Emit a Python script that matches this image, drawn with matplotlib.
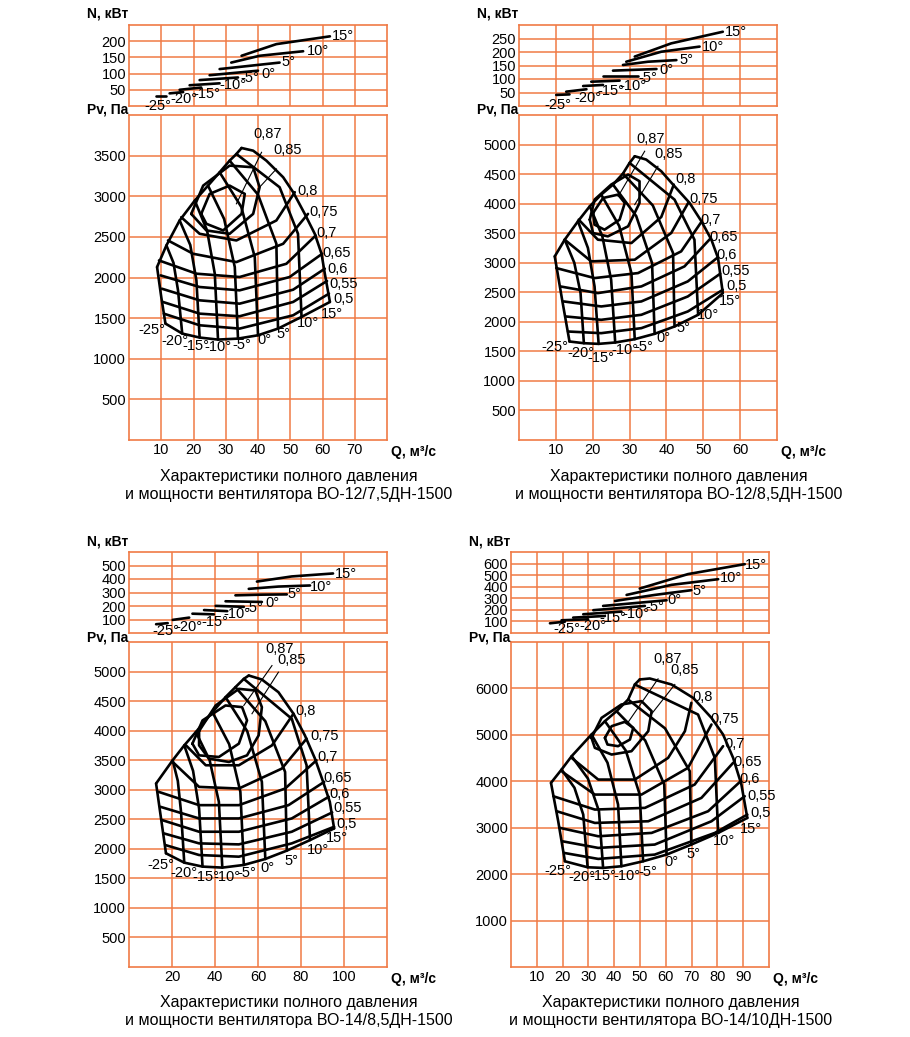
import matplotlib
matplotlib.use("Agg")
import matplotlib.pyplot as plt

plt.rcParams['font.family'] = ['Liberation Sans', 'DejaVu Sans']

GRID = "#F07A45"
ANGLES = ["-25°", "-20°", "-15°", "-10°", "-5°", "0°", "5°", "10°", "15°"]
EFFS = ["0,5", "0,55", "0,6", "0,65", "0,7", "0,75", "0,8"]

# ── panel 1: ВО-12/7,5ДН-1500 ─────────────────────────────────────────────────
P1_BLADE_Q = [[11.3, 10.0, 8.7], [16.5, 15.2, 13.8, 11.6], [21.9, 20.9, 19.0, 15.7],
              [27.6, 26.6, 24.2, 20.4], [33.8, 32.8, 29.5, 24.5], [40.0, 39.0, 34.8, 28.1],
              [46.2, 45.7, 40.0, 31.2], [53.5, 52.4, 46.7, 33.3],
              [62.3, 60.7, 59.7, 57.6, 54.5, 50.9, 47.8, 42.6, 38.5, 34.9]]
P1_BLADE_P = [[1433, 1760, 2129], [1310, 1842, 2180, 2395], [1261, 1965, 2400, 2702],
              [1236, 2047, 2580, 2947], [1248, 2129, 2720, 3131], [1289, 2251, 2870, 3295],
              [1371, 2415, 3020, 3438], [1515, 2538, 3111, 3520],
              [1699, 2051, 2292, 2538, 2783, 3050, 3234, 3438, 3561, 3594]]
P1_EFF_Q = [[10.8, 21.9, 34.3, 50.9, 62.0], [10.5, 21.9, 34.3, 50.9, 61.4],
            [10.2, 21.9, 34.3, 50.9, 60.7], [9.8, 21.9, 34.3, 49.8, 59.9],
            [9.3, 20.9, 34.3, 48.8, 57.9], [12.1, 19.9, 33.3, 47.8, 55.5],
            [16.2, 21.9, 33.3, 45.7, 51.4]]
P1_EFF_P = [[1555, 1412, 1371, 1535, 1801], [1699, 1555, 1523, 1699, 1957],
            [1862, 1719, 1678, 1850, 2108], [2026, 1883, 1842, 2006, 2292],
            [2210, 2047, 2006, 2169, 2517], [2456, 2292, 2190, 2415, 2783],
            [2742, 2538, 2456, 2702, 3050]]
P1_L87_Q = [22.4, 25.0, 31.2, 35.9, 34.9, 29.2, 24.0, 22.4]
P1_L87_P = [2783, 3029, 3131, 3029, 2783, 2579, 2661, 2783]
P1_L85_Q = [19.3, 23.0, 31.2, 38.5, 40.5, 38.5, 31.2, 24.0, 19.3]
P1_L85_P = [2783, 3131, 3377, 3357, 3111, 2783, 2538, 2579, 2783]
P1_LEAD_Q = [[33.3, 41.1], [40.0, 45.7]]
P1_LEAD_P = [[2907, 3541], [3090, 3336]]
P1_TOP_LBL = [(38.5, 3684), (44.7, 3479)]
P1_EFF_LBL = [(63.3, 1731), (62.0, 1924), (61.5, 2108), (60.0, 2305),
              (58.1, 2546), (55.8, 2804), (52.2, 3070)]
P1_ANG_LBL = [(7.2, 1351), (14.2, 1220), (20.7, 1154), (27.6, 1146), (34.9, 1167),
              (42.1, 1236), (47.8, 1310), (55.5, 1441), (62.8, 1555)]
P1_POW_Q = [[8.5, 11.6], [12.6, 16.8], [15.7, 22.4], [18.8, 28.1], [21.9, 33.8],
            [25.0, 40.0], [28.1, 46.7], [31.7, 40.5, 54.0], [34.9, 45.7, 62.3]]
P1_POW_N = [[31, 31], [39, 43], [50, 57], [64, 70], [80, 88], [95, 109],
            [114, 134], [134, 155, 169], [155, 191, 215]]
P1_POW_LBL = [(9.0, 0), (17.1, 21), (24.2, 38), (32.3, 64), (37.6, 85),
              (43.1, 98), (49.3, 137), (58.6, 171), (66.4, 217)]

# ── panel 2: ВО-12/8,5ДН-1500 ─────────────────────────────────────────────────
P2_BLADE_Q = [[13.7, 11.7, 9.7], [17.6, 16.7, 15.0, 12.4], [21.6, 20.5, 18.7, 16.0],
              [26.1, 25.0, 22.6, 19.2], [31.4, 30.5, 27.2, 22.3], [36.8, 36.1, 31.8, 25.5],
              [42.2, 41.8, 36.3, 28.2], [48.6, 47.6, 42.2, 30.0],
              [55.3, 54.0, 52.2, 49.5, 46.3, 42.2, 38.6, 34.5, 31.4]]
P2_BLADE_P = [[1667, 2373, 3107], [1638, 2486, 3000, 3390], [1627, 2599, 3250, 3701],
              [1650, 2712, 3450, 3955], [1706, 2825, 3620, 4153], [1797, 2994, 3790, 4322],
              [1921, 3164, 3970, 4508], [2119, 3390, 4068, 4689],
              [2486, 3079, 3390, 3701, 4011, 4294, 4548, 4746, 4802]]
P2_EFF_Q = [[13.3, 22.3, 33.2, 45.8, 55.3], [12.8, 22.3, 33.2, 45.8, 54.6],
            [12.1, 22.3, 33.2, 45.8, 53.7], [11.2, 21.4, 33.2, 44.9, 51.9],
            [10.1, 20.5, 32.3, 44.0, 49.6], [12.4, 19.6, 31.4, 41.3, 46.0],
            [16.2, 21.4, 30.5, 38.6, 42.0]]
P2_EFF_P = [[1836, 1808, 1893, 2175, 2542], [2090, 2034, 2119, 2429, 2814],
            [2345, 2260, 2345, 2684, 3079], [2599, 2486, 2599, 2938, 3407],
            [2910, 2740, 2825, 3192, 3701], [3390, 3023, 3051, 3503, 4023],
            [3729, 3390, 3333, 3774, 4322]]
P2_L87_Q = [20.1, 22.8, 26.9, 28.7, 27.3, 23.2, 20.5, 20.1]
P2_L87_P = [3842, 4096, 4153, 4011, 3729, 3559, 3644, 3842]
P2_L85_Q = [19.2, 20.5, 25.0, 29.6, 32.7, 32.7, 29.6, 24.1, 20.1, 19.2]
P2_L85_P = [3729, 4068, 4322, 4492, 4379, 4011, 3616, 3446, 3503, 3729]
P2_LEAD_Q = [[26.9, 34.1], [31.4, 37.7]]
P2_LEAD_P = [[4124, 4887], [3983, 4633]]
P2_TOP_LBL = [(31.8, 4983), (36.8, 4718)]
P2_EFF_LBL = [(56.2, 2599), (54.9, 2853), (53.5, 3124), (51.7, 3435),
              (49.3, 3729), (46.3, 4079), (42.4, 4424)]
P2_ANG_LBL = [(9.7, 1582), (16.9, 1480), (22.3, 1384), (28.7, 1525), (33.9, 1582),
              (39.1, 1723), (44.5, 1893), (51.3, 2119), (57.1, 2345)]
P2_POW_Q = [[10.1, 13.7], [12.8, 18.3], [17.4, 22.8], [19.6, 27.3], [22.8, 32.3],
            [25.5, 37.3], [28.2, 35.0, 42.7], [29.1, 38.6, 49.0], [31.4, 41.3, 55.3]]
P2_POW_N = [[41, 43], [53, 62], [74, 78], [90, 94], [111, 111], [131, 137],
            [152, 164, 170], [164, 201, 220], [183, 232, 275]]
P2_POW_LBL = [(10.6, 4), (18.7, 28), (25.0, 57), (30.9, 74), (35.0, 102),
              (40.0, 133), (45.4, 170), (52.6, 220), (58.9, 275)]

# ── panel 3: ВО-14/8,5ДН-1500 ─────────────────────────────────────────────────
P3_BLADE_Q = [[17.2, 14.9, 12.6], [25.7, 24.2, 22.7, 20.3], [34.2, 32.6, 29.8, 25.7],
              [43.4, 41.8, 37.5, 31.1], [53.4, 51.8, 46.6, 38.8], [63.4, 61.8, 55.0, 44.9],
              [73.4, 72.6, 63.4, 49.5], [84.2, 82.6, 75.7, 53.4],
              [95.4, 93.4, 90.3, 86.5, 81.8, 76.5, 69.5, 61.8, 55.7]]
P3_BLADE_P = [[1924, 2514, 3105], [1766, 2627, 3150, 3498], [1699, 2683, 3320, 3751],
              [1682, 2795, 3500, 3976], [1727, 2964, 3770, 4314], [1828, 3133, 3990, 4567],
              [1969, 3301, 4160, 4736], [2148, 3414, 4201, 4876],
              [2345, 2795, 3133, 3526, 3920, 4286, 4651, 4865, 4933]]
P3_EFF_Q = [[16.9, 32.6, 51.1, 75.7, 95.4], [16.2, 32.6, 51.1, 75.7, 94.5],
            [15.4, 32.6, 51.1, 75.7, 92.9], [14.6, 32.6, 51.1, 74.2, 90.8],
            [13.8, 32.6, 51.1, 72.6, 87.2], [20.0, 32.6, 51.1, 71.1, 82.6],
            [26.5, 35.7, 51.1, 66.5, 76.5]]
P3_EFF_P = [[2064, 1895, 1867, 2092, 2373], [2261, 2092, 2075, 2289, 2615],
            [2486, 2289, 2289, 2514, 2880], [2711, 2514, 2514, 2739, 3133],
            [2964, 2739, 2739, 3020, 3498], [3481, 3048, 3020, 3358, 3864],
            [3751, 3414, 3414, 3751, 4286]]
P3_L87_Q = [29.5, 34.2, 44.9, 52.6, 54.9, 51.1, 41.8, 32.6, 29.5]
P3_L87_P = [3780, 4173, 4426, 4398, 4173, 3780, 3554, 3582, 3780]
P3_L85_Q = [32.6, 40.3, 51.1, 58.8, 61.8, 60.3, 54.9, 46.5, 37.2, 32.6, 32.6]
P3_L85_P = [3993, 4426, 4707, 4679, 4398, 3920, 3582, 3470, 3526, 3751, 3993]
P3_LEAD_Q = [[53.4, 66.5], [57.2, 69.5]]
P3_LEAD_P = [[4426, 5101], [4286, 4989]]
P3_TOP_LBL = [(63.4, 5270), (68.8, 5073)]
P3_EFF_LBL = [(96.5, 2413), (94.9, 2683), (93.4, 2936), (90.3, 3200),
              (87.7, 3555), (84.2, 3903), (77.2, 4325)]
P3_ANG_LBL = [(14.9, 1727), (25.7, 1586), (35.7, 1530), (45.7, 1530), (54.9, 1586),
              (64.6, 1670), (75.4, 1794), (87.7, 1980), (96.5, 2177)]
P3_POW_Q = [[12.6, 18.0], [20.3, 28.0], [29.5, 39.5], [34.9, 45.7], [40.3, 53.4],
            [44.9, 61.8], [49.5, 61.8, 73.4], [55.7, 69.5, 84.2], [59.5, 75.7, 94.9]]
P3_POW_N = [[65, 73], [97, 114], [143, 138], [170, 162], [201, 194], [235, 230],
            [279, 284, 286], [327, 344, 352], [381, 419, 441]]
P3_POW_LBL = [(17.2, 12), (28.0, 48), (40.0, 78), (50.3, 138), (58.0, 182),
              (66.5, 223), (76.9, 286), (89.5, 344), (101.0, 436)]

# ── panel 4: ВО-14/10ДН-1500 ──────────────────────────────────────────────────
P4_BLADE_Q = [[20.9, 18.3, 15.5], [29.7, 28.0, 24.6, 19.6], [35.7, 34.1, 29.8, 23.5],
              [42.8, 41.5, 37.4, 31.2], [51.2, 49.9, 44.5, 36.4], [60.3, 59.4, 52.0, 40.9],
              [69.9, 69.3, 59.7, 45.4], [80.3, 79.0, 72.5, 48.0],
              [91.6, 89.3, 86.1, 82.2, 77.7, 70.6, 62.2, 53.8, 49.9]]
P4_BLADE_P = [[2277, 3139, 3966], [2148, 3283, 3860, 4253], [2134, 3355, 4060, 4540],
              [2170, 3499, 4400, 5007], [2277, 3714, 4660, 5295], [2421, 3930, 4880, 5510],
              [2637, 4217, 5140, 5761], [2888, 4504, 5438, 6085],
              [3211, 3930, 4504, 5007, 5366, 5797, 6085, 6214, 6193]]
P4_EFF_Q = [[20.6, 33.8, 55.7, 79.0, 91.6], [19.9, 33.8, 55.7, 77.7, 90.6],
            [19.0, 33.8, 54.5, 76.4, 89.0], [17.7, 32.5, 53.2, 73.8, 86.1],
            [16.4, 32.5, 51.9, 71.2, 82.2], [19.9, 32.5, 50.6, 68.6, 77.7],
            [23.5, 33.8, 48.0, 60.9, 67.4, 69.9]]
P4_EFF_P = [[2457, 2328, 2421, 2888, 3283], [2708, 2565, 2637, 3139, 3678],
            [2996, 2816, 2888, 3355, 4001], [3355, 3103, 3139, 3642, 4397],
            [3678, 3391, 3427, 3930, 4756], [4203, 3714, 3714, 4289, 5223],
            [4504, 4037, 4037, 4504, 5079, 5690]]
P4_L87_Q = [36.4, 39.0, 44.1, 47.4, 46.1, 41.5, 37.4, 36.4]
P4_L87_P = [4935, 5187, 5280, 5151, 4899, 4756, 4792, 4935]
P4_L85_Q = [31.2, 35.1, 42.8, 50.6, 54.5, 53.2, 46.7, 39.0, 32.5, 31.2]
P4_L85_P = [4935, 5366, 5654, 5726, 5510, 5079, 4648, 4576, 4720, 4935]
P4_LEAD_Q = [[45.4, 57.0], [53.8, 63.5]]
P4_LEAD_P = [[5273, 6207], [5402, 6085]]
P4_TOP_LBL = [(55.1, 6480), (61.9, 6243)]
P4_EFF_LBL = [(92.9, 3319), (91.6, 3678), (88.6, 4059), (86.1, 4411),
              (82.8, 4806), (77.3, 5345), (70.2, 5819)]
P4_ANG_LBL = [(18.3, 2062), (27.4, 1932), (35.7, 1954), (44.8, 1954), (53.2, 2047),
              (62.2, 2263), (70.6, 2435), (82.6, 2708), (92.9, 2981)]
P4_POW_Q = [[15.1, 20.9], [19.6, 29.9], [24.1, 36.4], [28.0, 42.8], [31.9, 51.9],
            [35.7, 60.3], [40.3, 55.7, 69.9], [44.8, 62.2, 80.3], [49.9, 68.6, 90.6]]
P4_POW_N = [[84, 98], [110, 118], [133, 147], [162, 185], [197, 234], [234, 283],
            [277, 329, 370], [329, 416, 465], [384, 509, 595]]
P4_POW_LBL = [(21.5, 38), (31.9, 61), (39.6, 127), (48.6, 168), (55.7, 225),
              (63.5, 283), (73.2, 364), (85.4, 474), (95.1, 590)]

PANELS = [
    dict(name="ВО-12/7,5ДН-1500", left=129, top=25, xmax=80, xt=range(10, 80, 10),
         ymax=4000, yt=range(500, 4000, 500), nmax=250, nt=range(50, 250, 50),
         bq=P1_BLADE_Q, bp=P1_BLADE_P, eq=P1_EFF_Q, ep=P1_EFF_P,
         l87=(P1_L87_Q, P1_L87_P), l85=(P1_L85_Q, P1_L85_P), lq=P1_LEAD_Q, lp=P1_LEAD_P,
         tl=P1_TOP_LBL, el=P1_EFF_LBL, al=P1_ANG_LBL, pq=P1_POW_Q, pn=P1_POW_N, pl=P1_POW_LBL),
    dict(name="ВО-12/8,5ДН-1500", left=519, top=25, xmax=70, xt=range(10, 70, 10),
         ymax=5500, yt=range(500, 5500, 500), nmax=300, nt=range(50, 300, 50),
         bq=P2_BLADE_Q, bp=P2_BLADE_P, eq=P2_EFF_Q, ep=P2_EFF_P,
         l87=(P2_L87_Q, P2_L87_P), l85=(P2_L85_Q, P2_L85_P), lq=P2_LEAD_Q, lp=P2_LEAD_P,
         tl=P2_TOP_LBL, el=P2_EFF_LBL, al=P2_ANG_LBL, pq=P2_POW_Q, pn=P2_POW_N, pl=P2_POW_LBL),
    dict(name="ВО-14/8,5ДН-1500", left=129, top=552, xmax=120, xt=range(20, 120, 20),
         ymax=5500, yt=range(500, 5500, 500), nmax=600, nt=range(100, 600, 100),
         bq=P3_BLADE_Q, bp=P3_BLADE_P, eq=P3_EFF_Q, ep=P3_EFF_P,
         l87=(P3_L87_Q, P3_L87_P), l85=(P3_L85_Q, P3_L85_P), lq=P3_LEAD_Q, lp=P3_LEAD_P,
         tl=P3_TOP_LBL, el=P3_EFF_LBL, al=P3_ANG_LBL, pq=P3_POW_Q, pn=P3_POW_N, pl=P3_POW_LBL),
    dict(name="ВО-14/10ДН-1500", left=511, top=552, xmax=100, xt=range(10, 100, 10),
         ymax=7000, yt=range(1000, 7000, 1000), nmax=700, nt=range(100, 700, 100),
         bq=P4_BLADE_Q, bp=P4_BLADE_P, eq=P4_EFF_Q, ep=P4_EFF_P,
         l87=(P4_L87_Q, P4_L87_P), l85=(P4_L85_Q, P4_L85_P), lq=P4_LEAD_Q, lp=P4_LEAD_P,
         tl=P4_TOP_LBL, el=P4_EFF_LBL, al=P4_ANG_LBL, pq=P4_POW_Q, pn=P4_POW_N, pl=P4_POW_LBL),
]

W, H = 910, 1037
fig = plt.figure(figsize=(W / 100, H / 100), dpi=100)
fig.patch.set_facecolor("white")
LW = 1.9
CURVE = dict(color="black", lw=LW, solid_capstyle="round", solid_joinstyle="round")


def style(ax, xmax, ymax, yt):
    ax.set_xlim(0, xmax)
    ax.set_ylim(0, ymax)
    ax.set_yticks(list(yt))
    for s in ax.spines.values():
        s.set_color(GRID)
        s.set_linewidth(1.2)
    ax.grid(True, color=GRID, lw=1.1)
    ax.set_axisbelow(True)
    ax.tick_params(length=0, labelsize=10.5, pad=2)


def fax(l, t, w, h):
    return fig.add_axes([l / W, 1 - (t + h) / H, w / W, h / H])


for p in PANELS:
    L, T = p["left"], p["top"]
    axn = fax(L, T, 258, 81)
    axp = fax(L, T + 90, 258, 325)

    style(axn, p["xmax"], p["nmax"], p["nt"])
    axn.set_xticks(list(p["xt"]))
    axn.tick_params(labelbottom=False)
    style(axp, p["xmax"], p["ymax"], p["yt"])
    axp.set_xticks(list(p["xt"]))

    # blade-angle curves and boundaries
    for q, v in zip(p["bq"], p["bp"]):
        axp.plot(q, v, **CURVE)
    axp.plot([q[0] for q in p["bq"]], [v[0] for v in p["bp"]], **CURVE)
    axp.plot([q[-1] for q in p["bq"]], [v[-1] for v in p["bp"]], **CURVE)

    # efficiency contours
    for q, v in zip(p["eq"], p["ep"]):
        axp.plot(q, v, **CURVE)
    axp.plot(*p["l87"], **CURVE)
    axp.plot(*p["l85"], **CURVE)
    for q, v in zip(p["lq"], p["lp"]):
        axp.plot(q, v, color="black", lw=0.8)

    txt = dict(fontsize=10.5, clip_on=False)
    for (x, y), s in zip(p["tl"], ["0,87", "0,85"]):
        axp.text(x, y, s, ha="left", va="bottom", **txt)
    for (x, y), s in zip(p["el"], EFFS):
        axp.text(x, y, s, ha="left", va="center", **txt)
    for (x, y), s in zip(p["al"], ANGLES):
        axp.text(x, y, s, ha="center", va="center", **txt)

    # power curves
    for q, n in zip(p["pq"], p["pn"]):
        axn.plot(q, n, **CURVE)
    for (x, y), s in zip(p["pl"], ANGLES):
        axn.text(x, y, s, ha="center", va="center", **txt)

    fig.text((L - 42) / W, 1 - (T - 11) / H, "N, кВт", fontsize=10,
             fontweight="bold", ha="left", va="center")
    fig.text((L - 42) / W, 1 - (T + 85) / H, "Pv, Па", fontsize=10,
             fontweight="bold", ha="left", va="center")
    fig.text((L + 262) / W, 1 - (T + 427) / H, "Q, м³/с", fontsize=10,
             fontweight="bold", ha="left", va="center")
    fig.text((L + 160) / W, 1 - (T + 460) / H,
             "Характеристики полного давления\nи мощности вентилятора " + p["name"],
             fontsize=11.5, ha="center", va="center", linespacing=1.25)

fig.savefig("out.png", dpi=100, facecolor="white")
